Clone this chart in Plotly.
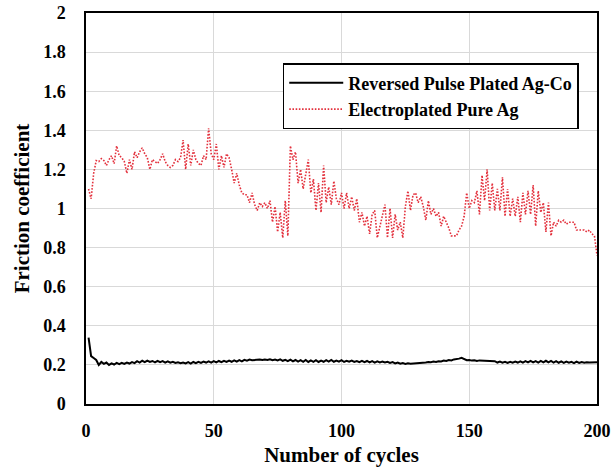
import plotly.graph_objects as go

cycles = list(range(1, 201))

ag_co = [
    0.340, 0.245, 0.235, 0.225, 0.200, 0.215, 0.205, 0.212, 0.200, 0.208,
    0.202, 0.210, 0.204, 0.211, 0.205, 0.212, 0.207, 0.214, 0.209, 0.219,
    0.212, 0.221, 0.214, 0.222, 0.215, 0.220, 0.213, 0.221, 0.214, 0.219,
    0.212, 0.218, 0.211, 0.216, 0.210, 0.213, 0.209, 0.212, 0.208, 0.214,
    0.207, 0.215, 0.209, 0.216, 0.210, 0.217, 0.212, 0.218, 0.212, 0.219,
    0.213, 0.220, 0.214, 0.221, 0.215, 0.222, 0.216, 0.223, 0.217, 0.224,
    0.218, 0.226, 0.222, 0.227, 0.224, 0.226, 0.225, 0.227, 0.225, 0.228,
    0.225, 0.229, 0.224, 0.227, 0.223, 0.228, 0.221, 0.226, 0.219, 0.227,
    0.218, 0.225, 0.217, 0.224, 0.216, 0.225, 0.215, 0.223, 0.216, 0.224,
    0.215, 0.222, 0.216, 0.224, 0.217, 0.225, 0.216, 0.222, 0.217, 0.224,
    0.215, 0.221, 0.216, 0.222, 0.215, 0.220, 0.214, 0.221, 0.214, 0.220,
    0.213, 0.219, 0.212, 0.218, 0.213, 0.217, 0.212, 0.216, 0.210, 0.214,
    0.208, 0.212, 0.206, 0.209, 0.205, 0.208, 0.206, 0.207, 0.205, 0.208,
    0.207, 0.211, 0.212, 0.215, 0.214, 0.217, 0.215, 0.219, 0.218, 0.222,
    0.220, 0.225, 0.223, 0.228, 0.229, 0.232, 0.236, 0.230, 0.224, 0.225,
    0.222, 0.224, 0.220, 0.223, 0.222, 0.222, 0.221, 0.222, 0.221, 0.219,
    0.212, 0.217, 0.211, 0.216, 0.210, 0.216, 0.211, 0.217, 0.212, 0.218,
    0.212, 0.219, 0.213, 0.220, 0.213, 0.219, 0.212, 0.220, 0.213, 0.221,
    0.213, 0.220, 0.212, 0.219, 0.211, 0.218, 0.210, 0.217, 0.211, 0.216,
    0.209, 0.217, 0.210, 0.215, 0.211, 0.214, 0.212, 0.213, 0.212, 0.214,
]

pure_ag = [
    1.10, 1.05, 1.18, 1.245, 1.24, 1.255, 1.245, 1.22, 1.25, 1.27,
    1.23, 1.32, 1.27, 1.26, 1.24, 1.18, 1.25, 1.20, 1.29, 1.26,
    1.29, 1.31, 1.28, 1.26, 1.20, 1.25, 1.24, 1.23, 1.25, 1.28,
    1.24, 1.22, 1.21, 1.22, 1.25, 1.24, 1.26, 1.35, 1.20, 1.33,
    1.22, 1.30, 1.25, 1.23, 1.22, 1.27, 1.25, 1.41, 1.28, 1.25,
    1.33, 1.20, 1.27, 1.21, 1.28, 1.26, 1.20, 1.13, 1.18, 1.12,
    1.08, 1.07, 1.07, 1.03, 1.08, 1.02, 0.99, 1.03, 1.01, 1.03,
    1.00, 1.04, 0.93, 1.01, 0.88, 0.98, 0.85, 1.04, 0.86, 1.32,
    1.25, 1.29, 1.13, 1.20, 1.10, 1.18, 1.25, 1.08, 1.15, 0.99,
    1.13, 0.98, 1.22, 1.03, 1.11, 1.02, 1.14, 1.05, 1.02, 1.08,
    1.00, 1.08, 1.00, 1.06, 0.99, 1.05, 0.93, 0.98, 0.91, 0.96,
    0.87, 0.97, 0.99, 0.85, 0.91, 0.96, 1.02, 0.85, 1.00, 0.85,
    0.97, 0.89, 0.93, 0.85, 1.01, 1.09, 0.99, 1.07, 1.08, 1.03,
    1.06, 1.01, 0.94, 1.04, 0.97, 1.00, 0.96, 0.98, 0.91, 0.96,
    0.93, 0.90, 0.86, 0.86, 0.86, 0.89, 0.91, 0.96, 1.08, 1.00,
    1.04, 1.03, 1.09, 0.97, 1.17, 1.04, 1.20, 0.99, 1.13, 0.99,
    1.10, 0.99, 1.16, 0.96, 1.10, 0.96, 1.05, 0.96, 1.06, 0.93,
    1.08, 0.97, 1.09, 0.97, 1.12, 0.91, 1.09, 0.98, 1.03, 0.88,
    1.03, 0.86, 0.93, 0.91, 0.94, 0.93, 0.94, 0.92, 0.93, 0.93,
    0.93, 0.89, 0.89, 0.89, 0.89, 0.88, 0.89, 0.87, 0.86, 0.76,
]

x_ticks = [0, 50, 100, 150, 200]
y_ticks = [0, 0.2, 0.4, 0.6, 0.8, 1, 1.2, 1.4, 1.6, 1.8, 2]

FONT = "Liberation Serif"

fig = go.Figure()
fig.add_trace(go.Scatter(
    x=cycles, y=ag_co, mode="lines",
    name="<b>Reversed Pulse Plated Ag-Co</b>",
    line=dict(color="black", width=2),
))
fig.add_trace(go.Scatter(
    x=cycles, y=pure_ag, mode="lines",
    name="<b>Electroplated Pure Ag</b>",
    line=dict(color="#e3303c", width=1.6, dash="1.6px,1.6px"),
))

fig.update_layout(
    width=613, height=467,
    margin=dict(l=86, r=16, t=13, b=63),
    paper_bgcolor="white", plot_bgcolor="white",
    font=dict(family=FONT, color="black", size=18),
    showlegend=True,
    legend=dict(
        x=0.385, y=0.872, xanchor="left", yanchor="top",
        bgcolor="white", bordercolor="black", borderwidth=1.5,
        font=dict(family=FONT, size=18, color="black"),
        itemwidth=54, tracegroupgap=0,
    ),
    xaxis=dict(
        range=[0, 200], tickvals=x_ticks, automargin=False,
        showgrid=True, gridcolor="#d9d9d9", gridwidth=1,
        showline=True, linecolor="black", linewidth=1.5, mirror=True,
        ticks="", ticklabelstandoff=10,
        tickfont=dict(family=FONT, size=18, color="black", weight="bold"),
        title=dict(text="<b>Number of cycles</b>", font=dict(family=FONT, size=21), standoff=12),
        zeroline=False,
    ),
    yaxis=dict(
        range=[0, 2], tickvals=y_ticks, automargin=False,
        showgrid=True, gridcolor="#d9d9d9", gridwidth=1,
        showline=True, linecolor="black", linewidth=1.5, mirror=True,
        ticks="", ticklabelstandoff=15,
        tickfont=dict(family=FONT, size=18, color="black", weight="bold"),
        title=dict(text="<b>Friction coefficient</b>", font=dict(family=FONT, size=21), standoff=8),
        zeroline=False,
    ),
)

fig.write_html(
    "out.html",
    config={"displayModeBar": False},
    post_script="document.body.style.margin='0';document.body.style.overflow='hidden';",
)
